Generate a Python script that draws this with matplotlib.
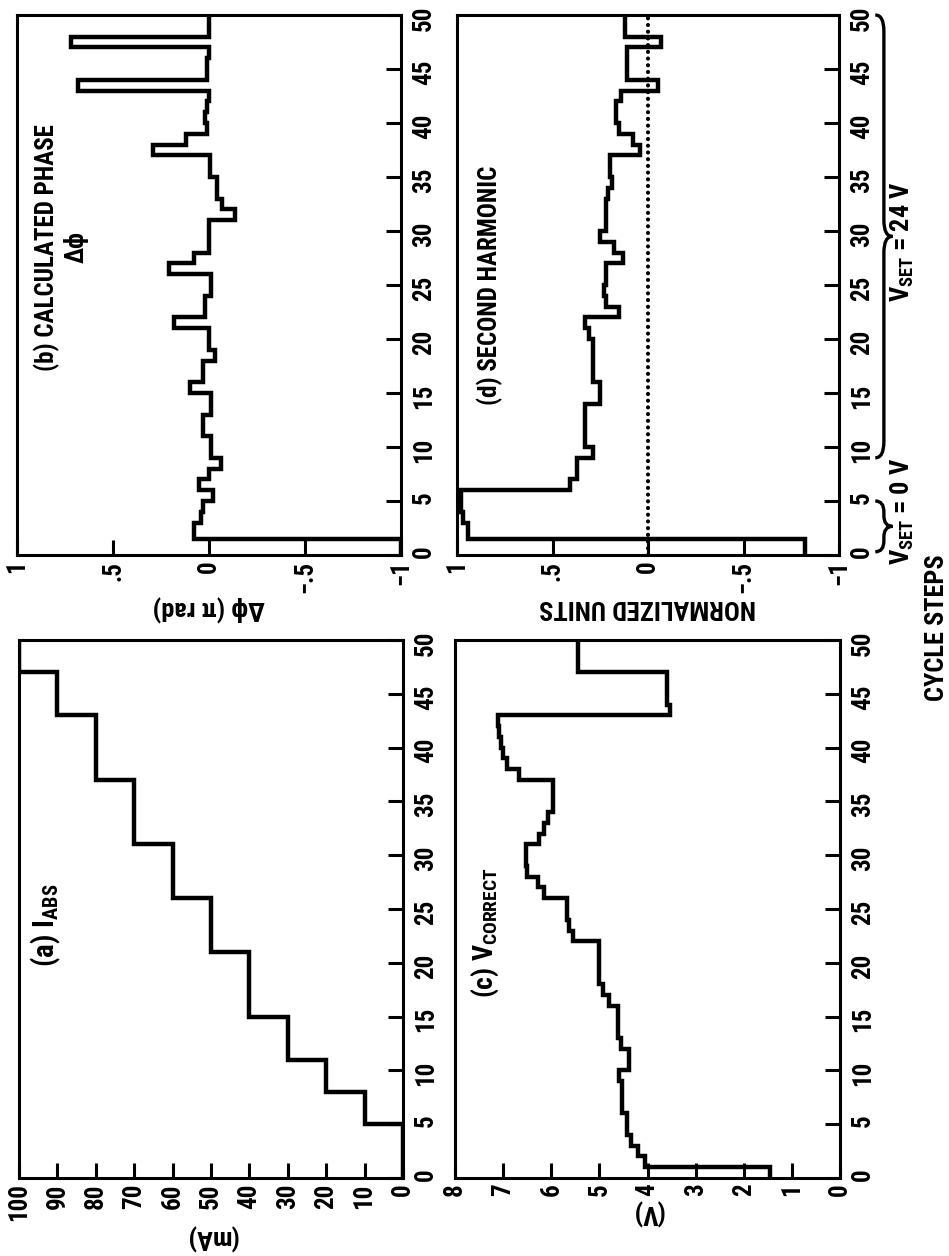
import numpy as np
import matplotlib
matplotlib.use("Agg")
import matplotlib.pyplot as plt
from matplotlib.path import Path
from matplotlib.patches import PathPatch
import matplotlib.transforms as mtransforms
from matplotlib import font_manager as fm

# pick a condensed bold sans if one is installed, else Liberation Sans
_avail = {f.name for f in fm.fontManager.ttflist}
FAM = "Liberation Sans"
for cand in ["Liberation Sans Narrow", "Roboto Condensed", "Open Sans Condensed"]:
    if cand in _avail:
        FAM = cand
        break
CONDENSED = FAM != "Liberation Sans"

plt.rcParams["font.family"] = [FAM, "DejaVu Sans"]
plt.rcParams["font.weight"] = "bold"
plt.rcParams["axes.labelweight"] = "bold"
plt.rcParams["mathtext.fontset"] = "custom"
plt.rcParams["mathtext.rm"] = FAM + ":bold"
plt.rcParams["mathtext.it"] = FAM + ":bold"
plt.rcParams["mathtext.bf"] = FAM + ":bold"

# ---------------- data ----------------
cycle_ticks = [0, 5, 10, 15, 20, 25, 30, 35, 40, 45, 50]
cycle_labels = [str(t) for t in cycle_ticks]

edges_ac = list(range(0, 51))
edges_bd = [0, 1.5] + list(range(2, 51))

i_abs = ([0] * 5 + [10] * 3 + [20] * 3 + [30] * 4 + [40] * 6 + [50] * 5 +
         [60] * 5 + [70] * 6 + [80] * 6 + [90] * 4 + [100] * 3)

phase = [-1.0, 0.08, 0.08, 0.04, 0.03, -0.02, 0.05, 0.0, -0.06, -0.01,
         -0.01, 0.03, 0.03, -0.01, -0.01, 0.10, 0.03, 0.03, -0.03, 0.0,
         0.0, 0.18, 0.02, 0.02, -0.01, -0.01, 0.21, 0.08, 0.0, 0.0,
         0.0, -0.135, -0.07, -0.04, -0.04, -0.005, -0.005, 0.29, 0.12, 0.01,
         0.02, 0.01, 0.0, 0.68, 0.01, 0.01, 0.0, 0.72, 0.0, 0.0]

v_correct = [1.45, 4.05, 4.2, 4.35, 4.42, 4.42, 4.52, 4.52, 4.52, 4.59,
             4.38, 4.38, 4.55, 4.62, 4.62, 4.62, 4.8, 4.93, 5.0, 5.0,
             5.0, 5.0, 5.55, 5.63, 5.68, 5.68, 6.16, 6.27, 6.5, 6.52,
             6.52, 6.25, 6.16, 6.06, 5.96, 5.96, 5.96, 6.68, 6.92, 7.0,
             7.05, 7.08, 7.1, 3.53, 3.6, 3.6, 3.6, 5.45, 5.45, 5.45]

second_harm = [-0.82, 0.94, 0.94, 0.97, 0.98, 0.98, 0.41, 0.37, 0.37, 0.29,
               0.33, 0.33, 0.33, 0.33, 0.25, 0.25, 0.29, 0.29, 0.29, 0.29,
               0.31, 0.33, 0.15, 0.22, 0.23, 0.22, 0.22, 0.13, 0.18, 0.25,
               0.22, 0.22, 0.22, 0.21, 0.19, 0.20, 0.20, 0.04, 0.08, 0.15,
               0.17, 0.17, 0.14, -0.05, 0.11, 0.11, 0.11, -0.07, 0.12, 0.12]

a_ticks = [100, 90, 80, 70, 60, 50, 40, 30, 20, 10, 0]
a_labels = ["100", "90", "80", "70", "60", "50", "40", "30", "20", "10", "0"]
c_ticks = [8, 7, 6, 5, 4, 3, 2, 1, 0]
c_labels = ["8", "7", "6", "5", "4", "3", "2", "1", "0"]
bd_ticks = [1, 0.5, 0, -0.5, -1]
bd_labels = ["1", ".5", "0", "\u2212.5", "\u22121"]

# ---------------- figure ----------------
W, H = 949, 1256
fig = plt.figure(figsize=(W / 100, H / 100), dpi=100)


def px_axes(x0, x1, ytop, ybot):
    return fig.add_axes([x0 / W, (H - ybot) / H, (x1 - x0) / W, (ybot - ytop) / H])


ax_b = px_axes(17, 401, 15, 555)
ax_d = px_axes(457, 839, 15, 555)
ax_a = px_axes(19, 403, 640, 1178)
ax_c = px_axes(455, 840, 640, 1178)

FS = 18 if CONDENSED else 16      # tick labels
FL = 19 if CONDENSED else 17      # axis labels
FT = 18 if CONDENSED else 16      # panel titles
LW = 3.2


def setup(ax, vlim, vticks, vlabels, ylab):
    ax.set_xlim(*vlim)
    ax.set_ylim(0, 50)
    ax.yaxis.tick_right()
    ax.set_yticks(cycle_ticks, cycle_labels)
    ax.set_xticks(vticks, vlabels)
    for s in ax.spines.values():
        s.set_linewidth(2.2)
    ax.tick_params(axis="both", direction="in", length=11, width=2.2,
                   labelsize=FS)
    ax.tick_params(axis="y", labelrotation=90, pad=8, right=True, left=False)
    ax.tick_params(axis="x", labelrotation=90, pad=4, bottom=True, top=False)
    ax.set_xlabel(ylab, rotation=180, fontsize=FL, labelpad=2,
                  fontweight="bold")


setup(ax_b, (1, -1), bd_ticks, bd_labels, "\u0394\u03d5 (\u03c0 rad)")
setup(ax_d, (1, -1), bd_ticks, bd_labels, "NORMALIZED UNITS")
setup(ax_a, (100, 0), a_ticks, a_labels, "(mA)")
setup(ax_c, (8, 0), c_ticks, c_labels, "(V)")

ax_a.stairs(i_abs, edges_ac, orientation="horizontal", baseline=None,
            color="black", lw=LW)
ax_c.stairs(v_correct, edges_ac, orientation="horizontal", baseline=None,
            color="black", lw=LW)
ax_b.stairs(phase, edges_bd, orientation="horizontal", baseline=None,
            color="black", lw=LW)
ax_d.stairs(second_harm, edges_bd, orientation="horizontal", baseline=None,
            color="black", lw=LW)
ax_d.axvline(0, color="black", lw=3, linestyle=(0, (0.01, 1.6)),
             dash_capstyle="round")

# panel titles (rotated like the rest of the figure)
ax_b.text(0.115, 0.57, "(b) CALCULATED PHASE\n\u0394\u03d5", rotation=90,
          transform=ax_b.transAxes, ha="center", va="center", fontsize=FT,
          multialignment="center", linespacing=1.2)
ax_d.text(0.085, 0.50, "(d) SECOND HARMONIC", rotation=90,
          transform=ax_d.transAxes, ha="center", va="center", fontsize=FT)
ax_a.text(0.07, 0.47, r"(a) I$_{\mathrm{ABS}}$", rotation=90,
          transform=ax_a.transAxes, ha="center", va="center", fontsize=FT + 3)
ax_c.text(0.08, 0.455, r"(c) V$_{\mathrm{CORRECT}}$", rotation=90,
          transform=ax_c.transAxes, ha="center", va="center", fontsize=FT + 2)


def brace(ax, y0, y1, x, w, q):
    ym = (y0 + y1) / 2
    xm = x + w / 2
    verts = [(x, y0), (xm, y0), (xm, y0 + q), (xm, ym - q), (xm, ym), (x + w, ym),
             (xm, ym), (xm, ym + q), (xm, y1 - q), (xm, y1), (x, y1)]
    codes = [Path.MOVETO, Path.CURVE3, Path.CURVE3, Path.LINETO, Path.CURVE3,
             Path.CURVE3, Path.CURVE3, Path.CURVE3, Path.LINETO, Path.CURVE3,
             Path.CURVE3]
    tr = mtransforms.blended_transform_factory(ax.transAxes, ax.transData)
    ax.add_patch(PathPatch(Path(verts, codes), transform=tr, fill=False,
                           lw=2.4, color="black", clip_on=False))


brace(ax_d, 0.3, 5.0, 1.095, 0.045, 1.0)
brace(ax_d, 9.0, 50.0, 1.095, 0.045, 1.5)
trd = mtransforms.blended_transform_factory(ax_d.transAxes, ax_d.transData)
ax_d.text(1.165, 4.0, r"V$_{\mathrm{SET}}$ = 0 V", rotation=90, transform=trd,
          ha="center", va="center", fontsize=FL)
ax_d.text(1.165, 29.0, r"V$_{\mathrm{SET}}$ = 24 V", rotation=90, transform=trd,
          ha="center", va="center", fontsize=FL)

fig.text(937 / W, 0.5, "CYCLE STEPS", rotation=90, ha="center", va="center",
         fontsize=FL)

fig.savefig("out.png", dpi=100, facecolor="white")
